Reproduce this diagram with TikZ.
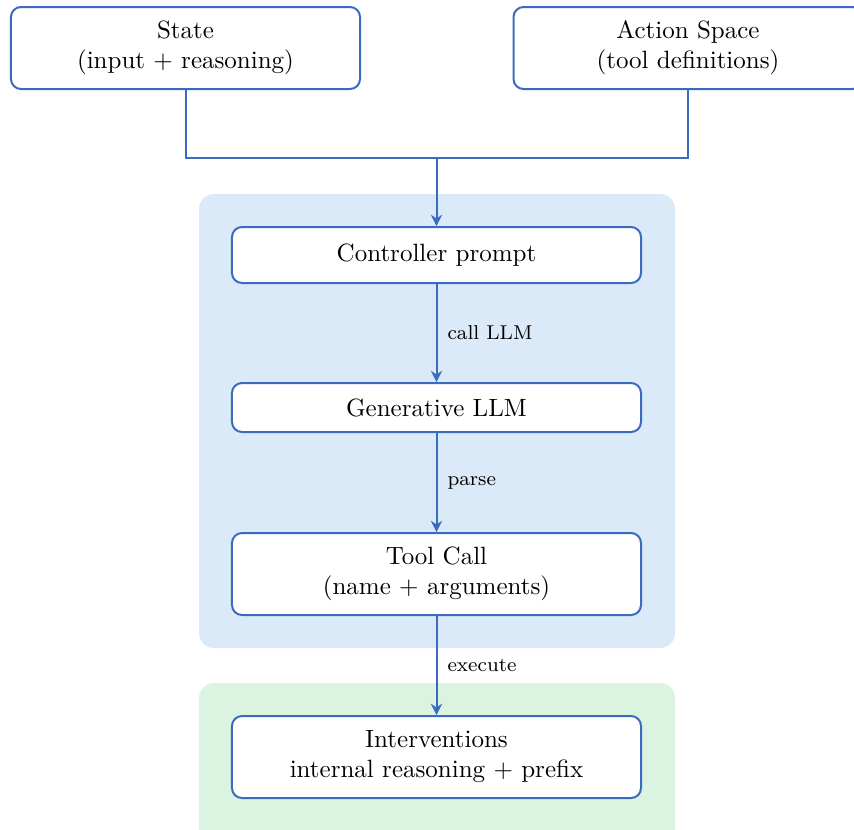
\documentclass[tikz,border=0pt]{standalone}
\usetikzlibrary{arrows.meta}
\definecolor{lineblue}{HTML}{3A6BC0}
\definecolor{bgblue}{HTML}{DAEAF8}
\definecolor{bggreen}{HTML}{DBF3E1}
\tikzset{
  box/.style={draw=lineblue, line width=0.8pt, fill=white, rounded corners=4pt, align=center, inner sep=0pt, font=\normalsize},
  conn/.style={draw=lineblue, line width=0.8pt},
  arr/.style={conn, -{Stealth[length=4.5pt,width=4.5pt]}},
  lbl/.style={font=\footnotesize, anchor=west, inner sep=0pt},
  panel/.style={rounded corners=6pt, draw=none}
}
\begin{document}
\begin{tikzpicture}[x=0.4pt,y=-0.4pt]
\useasboundingbox (0,0) rectangle (854,829);
\begin{scope}
\clip (0,0) rectangle (854,829);
% panels
\fill[bgblue, panel] (199,194) rectangle (675,648);
\fill[bggreen, panel] (199,683) rectangle (675,845);
% boxes
\node[box, minimum width=139.6pt, minimum height=32.8pt] (state) at (185.5,48) {State\\(input + reasoning)};
\node[box, minimum width=139.6pt, minimum height=32.8pt] (action) at (688,48) {Action Space\\(tool definitions)};
\node[box, minimum width=163.6pt, minimum height=22.4pt] (ctrl) at (436.5,255) {Controller prompt};
\node[box, minimum width=163.6pt, minimum height=19.6pt] (gen) at (436.5,407.5) {Generative LLM};
\node[box, minimum width=163.6pt, minimum height=32.8pt] (tool) at (436.5,574) {Tool Call\\(name + arguments)};
\node[box, minimum width=163.6pt, minimum height=32.8pt] (interv) at (436.5,757) {Interventions\\internal reasoning + prefix};
% connectors
\coordinate (j) at (436.5,158);
\draw[conn] (state.south) |- (j);
\draw[conn] (action.south) |- (j);
\draw[arr] (j) -- (ctrl.north);
\draw[arr] (ctrl.south) -- node[lbl, xshift=4pt] {call LLM} (gen.north);
\draw[arr] (gen.south) -- node[lbl, xshift=4pt] {parse} (tool.north);
\draw[arr] (tool.south) -- node[lbl, xshift=4pt] {execute} (interv.north);
\end{scope}
\end{tikzpicture}
\end{document}
